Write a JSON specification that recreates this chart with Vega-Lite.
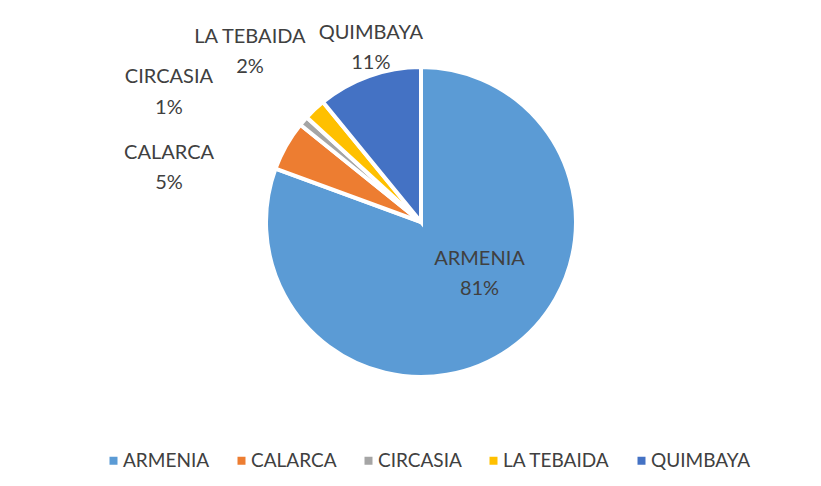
{
  "$schema": "https://vega.github.io/schema/vega-lite/v6.json",
  "width": 842,
  "height": 444,
  "autosize": {"type": "none"},
  "padding": {"top": 0, "left": 0, "right": 0, "bottom": 42},
  "background": "white",
  "config": {"view": {"stroke": null}},
  "data": {
    "values": [
      {"name": "ARMENIA", "value": 80.6},
      {"name": "CALARCA", "value": 5.2},
      {"name": "CIRCASIA", "value": 1.0},
      {"name": "LA TEBAIDA", "value": 2.3},
      {"name": "QUIMBAYA", "value": 10.9}
    ]
  },
  "transform": [
    {"calculate": "datum.name + '\\n' + format(datum.value, '.0f') + '%'", "as": "label"}
  ],
  "encoding": {
    "theta": {"field": "value", "type": "quantitative", "stack": true},
    "order": {"field": "name", "type": "nominal", "sort": "ascending"}
  },
  "layer": [
    {
      "mark": {"type": "arc", "outerRadius": 155, "stroke": "white", "strokeWidth": 4},
      "encoding": {
        "color": {
          "field": "name",
          "type": "nominal",
          "scale": {
            "domain": ["ARMENIA", "CALARCA", "CIRCASIA", "LA TEBAIDA", "QUIMBAYA"],
            "range": ["#5B9BD5", "#ED7D31", "#A5A5A5", "#FFC000", "#4472C4"]
          },
          "legend": {
            "title": null,
            "orient": "none",
            "legendX": 104,
            "legendY": 451,
            "direction": "horizontal",
            "symbolType": "square",
            "symbolSize": 64,
            "symbolStrokeWidth": 0,
            "labelFont": "Lato",
            "labelFontSize": 19,
            "labelColor": "#404040",
            "labelOffset": 0,
            "columnPadding": 22
          }
        }
      }
    },
    {
      "mark": {"type": "text", "radius": 76, "dx": 15, "dy": -25, "font": "Lato", "fontSize": 20, "lineBreak": "\n", "lineHeight": 30, "align": "center", "baseline": "middle", "fill": "#404040"},
      "encoding": {
        "text": {"field": "label"},
        "opacity": {"condition": {"test": "datum.name === 'ARMENIA'", "value": 1}, "value": 0}
      }
    },
    {
      "mark": {"type": "text", "radius": 247, "dx": -37, "dy": 53, "font": "Lato", "fontSize": 20, "lineBreak": "\n", "lineHeight": 30, "align": "center", "baseline": "middle", "fill": "#404040"},
      "encoding": {
        "text": {"field": "label"},
        "opacity": {"condition": {"test": "datum.name === 'CALARCA'", "value": 1}, "value": 0}
      }
    },
    {
      "mark": {"type": "text", "radius": 277, "dx": -42, "dy": 36, "font": "Lato", "fontSize": 20, "lineBreak": "\n", "lineHeight": 31, "align": "center", "baseline": "middle", "fill": "#404040"},
      "encoding": {
        "text": {"field": "label"},
        "opacity": {"condition": {"test": "datum.name === 'CIRCASIA'", "value": 1}, "value": 0}
      }
    },
    {
      "mark": {"type": "text", "radius": 241, "dx": -5.5, "dy": -9.5, "font": "Lato", "fontSize": 20, "lineBreak": "\n", "lineHeight": 30, "align": "center", "baseline": "middle", "fill": "#404040"},
      "encoding": {
        "text": {"field": "label"},
        "opacity": {"condition": {"test": "datum.name === 'LA TEBAIDA'", "value": 1}, "value": 0}
      }
    },
    {
      "mark": {"type": "text", "radius": 181, "dx": 10.6, "dy": -18.5, "font": "Lato", "fontSize": 20, "lineBreak": "\n", "lineHeight": 30, "align": "center", "baseline": "middle", "fill": "#404040"},
      "encoding": {
        "text": {"field": "label"},
        "opacity": {"condition": {"test": "datum.name === 'QUIMBAYA'", "value": 1}, "value": 0}
      }
    }
  ]
}
